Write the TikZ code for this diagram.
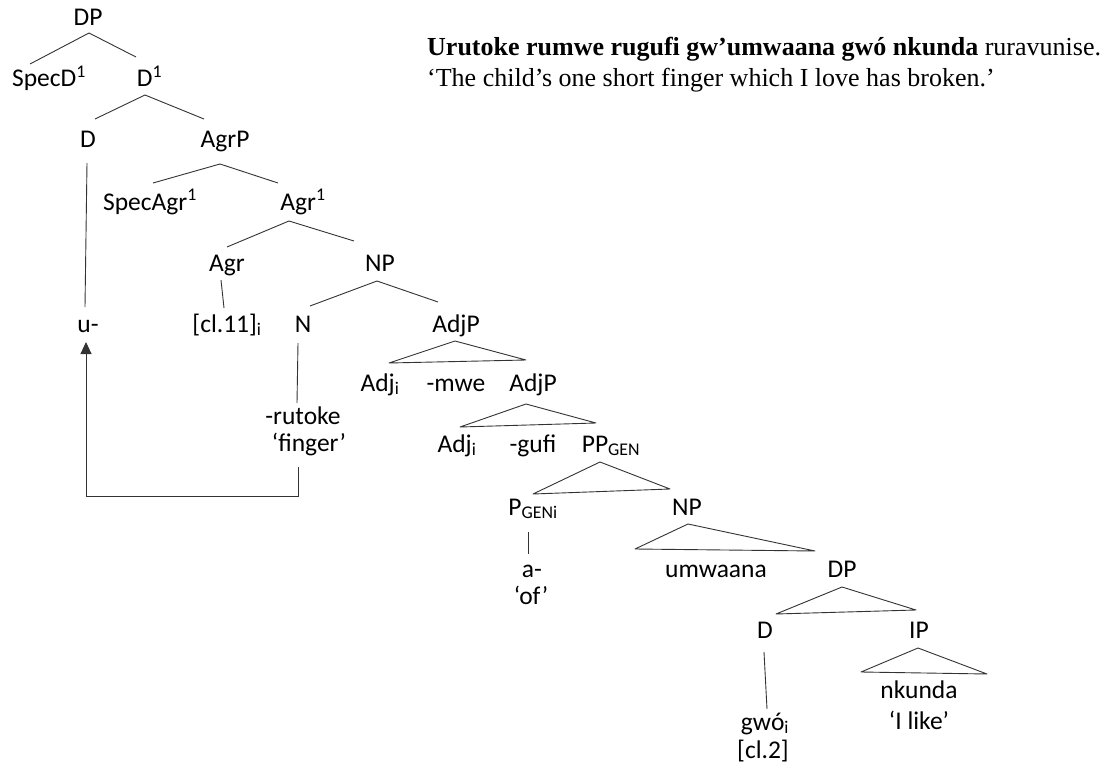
\documentclass[tikz,border=0pt]{standalone}
\usepackage{fontspec}
\setmainfont{Carlito}
\newfontfamily\serif{Liberation Serif}
\usetikzlibrary{arrows.meta}
\begin{document}
\begin{tikzpicture}[x=1pt,y=-1pt,
  lab/.style={inner sep=0pt,anchor=base,font=\fontsize{25.5}{30}\selectfont},
  gloss/.style={inner sep=0pt,anchor=base west,font=\serif\fontsize{26}{31}\selectfont},
  branch/.style={draw=black!80,line width=0.9pt},
  tri/.style={draw=black!80,line width=0.9pt,line join=round}]
\useasboundingbox[fill=white] (0,0) rectangle (1106,765);

% example sentence and its translation
\node[gloss] (ex) at (427,56) {\textbf{Urutoke rumwe rugufi gw’umwaana gwó nkunda} ruravunise.};
\node[gloss] (tr) at (427,87) {‘The child’s one short finger which I love has broken.’};

% tree nodes
\node[lab] (dp) at (88,26) {DP};
\node[lab] (specd) at (49,87) {SpecD\textsuperscript{1}};
\node[lab] (dbar) at (149.5,87) {D\textsuperscript{1}};
\node[lab] (d) at (88,148) {D};
\node[lab] (agrp) at (225,148) {AgrP};
\node[lab] (specagr) at (150,210) {SpecAgr\textsuperscript{1}};
\node[lab] (agrbar) at (303,210) {Agr\textsuperscript{1}};
\node[lab] (agr) at (227,271) {Agr};
\node[lab] (np) at (380,271) {NP};
\node[lab] (u) at (88,332) {u-};
\node[lab] (cl) at (227,332) {[cl.11]\textsubscript{i}};
\node[lab] (n) at (303,332) {N};
\node[lab] (adjp) at (456,332) {AdjP};
\node[lab] (adja) at (380,391) {Adj\textsubscript{i}};
\node[lab] (mwe) at (456,391) {-mwe};
\node[lab] (adjpb) at (533,391) {AdjP};
\node[lab] (rutoke) at (303,424) {-rutoke};
\node[lab] (finger) at (309,451) {‘finger’};
\node[lab] (adjb) at (457,452) {Adj\textsubscript{i}};
\node[lab] (gufi) at (533,452) {-gufi};
\node[lab] (ppgen) at (611,452) {PP\textsubscript{GEN}};
\node[lab] (pgen) at (533,515) {P\textsubscript{GENi}};
\node[lab] (npb) at (687,515) {NP};
\node[lab] (a) at (532,577) {a-};
\node[lab] (of) at (531,604) {‘of’};
\node[lab] (umwaana) at (716,577) {umwaana};
\node[lab] (dpb) at (842,577) {DP};
\node[lab] (db) at (765,638) {D};
\node[lab] (ip) at (919,638) {IP};
\node[lab] (nkunda) at (919,698) {nkunda};
\node[lab] (ilike) at (919,729) {‘I like’};
\node[lab] (gwo) at (765,730) {gwó\textsubscript{i}};
\node[lab] (clb) at (763,758) {[cl.2]};

% branches
\draw[branch] ([shift={(1,7)}]dp.base) -- ([shift={(-19,-23)}]specd.base);
\draw[branch] ([shift={(1,7)}]dp.base) -- ([shift={(-13.5,-30)}]dbar.base);
\draw[branch] ([shift={(-4.5,8)}]dbar.base) -- ([shift={(7,-29)}]d.base);
\draw[branch] ([shift={(-4.5,8)}]dbar.base) -- ([shift={(-21,-29)}]agrp.base);
\draw[branch] ([shift={(-1,15)}]d.base) -- ([shift={(-3,-25)}]u.base);
\draw[branch] ([shift={(-5,16)}]agrp.base) -- ([shift={(3,-27)}]specagr.base);
\draw[branch] ([shift={(-5,16)}]agrp.base) -- ([shift={(-25,-27)}]agrbar.base);
\draw[branch] ([shift={(-14,11)}]agrbar.base) -- ([shift={(0,-24)}]agr.base);
\draw[branch] ([shift={(-14,11)}]agrbar.base) -- ([shift={(-26,-30)}]np.base);
\draw[branch] ([shift={(-6,9)}]agr.base) -- ([shift={(-3,-24)}]cl.base);
\draw[branch] ([shift={(-3,10)}]np.base) -- ([shift={(7,-26)}]n.base);
\draw[branch] ([shift={(-3,10)}]np.base) -- ([shift={(-18,-30)}]adjp.base);
\draw[branch] ([shift={(-5,11)}]n.base) -- ([shift={(-6,-21)}]rutoke.base);
\draw[branch] ([shift={(-5,17)}]pgen.base) -- ([shift={(-4,-23)}]a.base);
\draw[branch] ([shift={(-1,14)}]db.base) -- ([shift={(2,-21)}]gwo.base);

% triangles over unanalysed constituents
\draw[tri] ([shift={(-1,9)}]adjp.base) -- ++(-66,22) -- ++(137,-3) -- cycle;
\draw[tri] ([shift={(-7,13)}]adjpb.base) -- ++(-66,23) -- ++(136,-4) -- cycle;
\draw[tri] ([shift={(-11,10)}]ppgen.base) -- ++(-67,32) -- ++(137,-5) -- cycle;
\draw[tri] ([shift={(1,9)}]npb.base) -- ++(-53,25) -- ++(180,2) -- cycle;
\draw[tri] ([shift={(0,10)}]dpb.base) -- ++(-66,27) -- ++(140,-4) -- cycle;
\draw[tri] ([shift={(-1,10)}]ip.base) -- ++(-57,24) -- ++(126,2) -- cycle;

% head movement of the noun stem to D
\draw[branch,-{Triangle[width=11pt,length=12pt]}]
  ([shift={(-11,16)}]finger.base) -- ++(0,29) -| ([shift={(-2,10)}]u.base);
\end{tikzpicture}
\end{document}
